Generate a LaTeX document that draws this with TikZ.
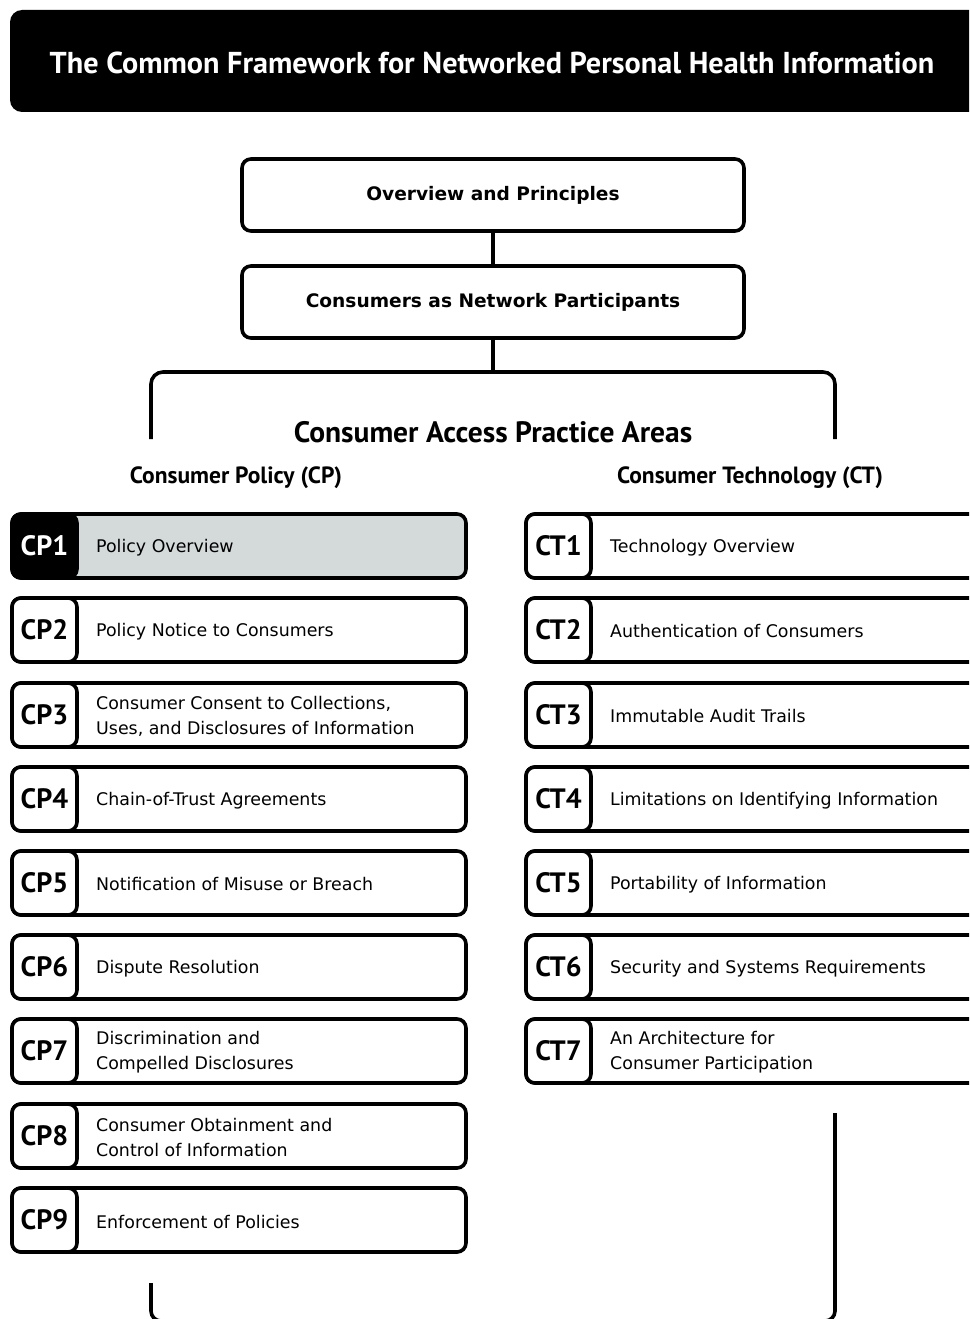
\documentclass[tikz,border=0pt]{standalone}
\usepackage{fontspec}
\setmainfont{DejaVu Sans}
\newfontfamily\headfont{PT Sans}
\definecolor{boxgray}{HTML}{D4DADA}
\tikzset{
 frame/.style={draw=black, line width=3.6pt, rounded corners=9pt},
 topbox/.style={frame, fill=white, minimum width=502pt, minimum height=72pt, inner sep=0pt, font=\bfseries\fontsize{18.6}{20}\selectfont},
 rowbox/.style={frame, fill=white, minimum height=64pt, inner sep=0pt},
 cpbox/.style={rowbox, minimum width=454pt},
 ctbox/.style={rowbox, minimum width=470pt},
 codebox/.style={frame, fill=white, minimum width=65pt, minimum height=64pt, inner sep=0pt, font=\headfont\bfseries\fontsize{28}{28}\selectfont},
 itemtext/.style={anchor=west, align=left, inner sep=0pt, yshift=-1.5pt, font=\fontsize{17.4}{25}\selectfont},
 conn/.style={draw=black, line width=3.6pt},
 headtext/.style={inner sep=0pt, font=\headfont\bfseries\fontsize{#1}{#1}\selectfont},
}
\begin{document}
\begin{tikzpicture}[x=1pt,y=-1pt]
\useasboundingbox (0,0) rectangle (969,1319);
\clip (0,0) rectangle (969,1319);
% title bar
\fill[black, rounded corners=12pt] (10,10) rectangle (1000,112);
\node[headtext=30.2, text=white] (title) at (492,63) {The Common Framework for Networked Personal Health Information};
% top boxes
\node[topbox] (op) at (493,195) {Overview and Principles};
\node[topbox] (cnp) at (493,302) {Consumers as Network Participants};
\coordinate (bt) at (493,372);
\draw[conn] (op.south) -- (cnp.north);
\draw[conn] (cnp.south) -- (bt);
\draw[conn, rounded corners=12pt] (151,439) -- (151,372) -- (835,372) -- (835,439);
\node[headtext=29.5] (cap) at (493,432) {Consumer Access Practice Areas};
\node[headtext=23.5] (cpl) at (236,478) {Consumer Policy (CP)};
\node[headtext=23.5] (ctl) at (750,478) {Consumer Technology (CT)};
% CP column
\node[cpbox, fill=boxgray] (cp1) at (239,546) {};
\node[codebox, fill=black, text=white] (cp1c) at (44.5,546) {CP1};
\node[itemtext] (cp1t) at (96,546) {Policy Overview};
\foreach \i/\y/\t in {2/630/{Policy Notice to Consumers},
  3/715/{Consumer Consent to Collections,\\Uses, and Disclosures of Information},
  4/799/{Chain-of-Trust Agreements},
  5/883/{Notification of Misuse or Breach},
  6/967/{Dispute Resolution},
  7/1051/{Discrimination and\\Compelled Disclosures},
  8/1136/{Consumer Obtainment and\\Control of Information},
  9/1220/{Enforcement of Policies}}{
  \node[cpbox] (cp\i) at (239,\y) {};
  \node[codebox] (cp\i c) at (44.5,\y) {CP\i};
  \node[itemtext] (cp\i t) at (96,\y) {\t};
}
% CT column
\foreach \i/\y/\t in {1/546/{Technology Overview},
  2/630/{Authentication of Consumers},
  3/715/{Immutable Audit Trails},
  4/799/{Limitations on Identifying Information},
  5/883/{Portability of Information},
  6/967/{Security and Systems Requirements},
  7/1051/{An Architecture for\\Consumer Participation}}{
  \node[ctbox] (ct\i) at (761,\y) {};
  \node[codebox] (ct\i c) at (558.5,\y) {CT\i};
  \node[itemtext] (ct\i t) at (610,\y) {\t};
}
% bottom bracket
\draw[conn, rounded corners=10pt] (151,1283) -- (151,1321) -- (835,1321) -- (835,1113);
\end{tikzpicture}
\end{document}
